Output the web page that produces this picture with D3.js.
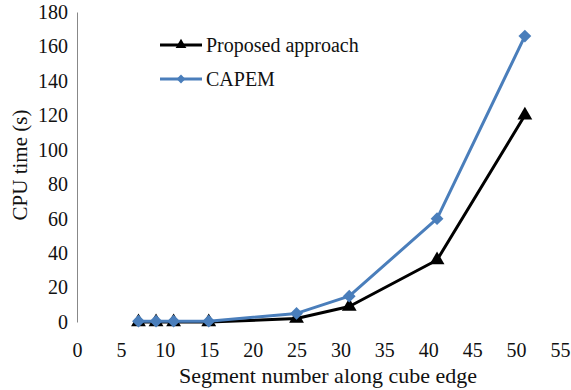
<!DOCTYPE html>
<html>
<head>
<meta charset="utf-8">
<script src="https://cdnjs.cloudflare.com/ajax/libs/d3/7.8.5/d3.min.js"></script>
<style>
  html, body { margin: 0; padding: 0; background: #fff; }
  svg text { font-family: "Liberation Serif", "Times New Roman", serif; fill: #111; }
</style>
</head>
<body>
<div id="chart"></div>
<script>
// Segment counts along the cube edge
const segments = [7, 9, 11, 15, 25, 31, 41, 51];
// CPU time in seconds for each method
const proposedTimes = [0, 0, 0, 0, 2, 9, 36, 120];
const capemTimes = [0.5, 0.5, 0.5, 0.5, 5, 15, 60, 166];
const seriesNames = ["Proposed approach", "CAPEM"];
const xTicks = [0, 5, 10, 15, 20, 25, 30, 35, 40, 45, 50, 55];
const yTicks = [0, 20, 40, 60, 80, 100, 120, 140, 160, 180];

const W = 571, H = 390;
const svg = d3.select("#chart").append("svg").attr("width", W).attr("height", H);

const x = d3.scaleLinear().domain([0, 55]).range([77, 560]);
const y = d3.scaleLinear().domain([0, 180]).range([322, 12]);

// y axis: plain grey spine, no tick marks
const yAxis = svg.append("g").attr("transform", `translate(${x(0)},0)`)
  .call(d3.axisLeft(y).tickValues(yTicks).tickSize(0).tickPadding(9));
yAxis.select(".domain").attr("stroke", "#888").attr("stroke-width", 1);
yAxis.selectAll("text").attr("font-size", 20).style("font-family", "Liberation Serif");

// x axis: labels only
const xAxis = svg.append("g").attr("transform", `translate(0,${y(0)})`)
  .call(d3.axisBottom(x).tickValues(xTicks).tickSize(0).tickPadding(21));
xAxis.select(".domain").remove();
xAxis.selectAll("text").attr("font-size", 20).style("font-family", "Liberation Serif");

svg.append("text").attr("transform", "translate(27,165) rotate(-90)")
  .attr("text-anchor", "middle").attr("font-size", 21).text("CPU time (s)");
svg.append("text").attr("x", 328).attr("y", 383)
  .attr("text-anchor", "middle").attr("font-size", 22).text("Segment number along cube edge");

const line = d3.line().x(d => x(d[0])).y(d => y(d[1]));
const tri = d3.symbol().type(d3.symbolTriangle).size(95);
const dia = d3.symbol().type(d3.symbolDiamond2 || d3.symbolDiamond).size(105);

const proposed = segments.map((s, i) => [s, proposedTimes[i]]);
const capem = segments.map((s, i) => [s, capemTimes[i]]);

function drawSeries(data, color, sym) {
  svg.append("path").datum(data).attr("d", line)
    .attr("fill", "none").attr("stroke", color).attr("stroke-width", 3)
    .attr("stroke-linejoin", "round");
  svg.append("g").selectAll("path").data(data).join("path")
    .attr("transform", d => `translate(${x(d[0])},${y(d[1])})`)
    .attr("d", sym).attr("fill", color);
}
drawSeries(proposed, "#000", tri);
drawSeries(capem, "#4a7ebb", dia);

// legend
const legend = [
  { name: seriesNames[0], color: "#000", sym: d3.symbol().type(d3.symbolTriangle).size(50), y: 45 },
  { name: seriesNames[1], color: "#4a7ebb", sym: d3.symbol().type(d3.symbolDiamond2 || d3.symbolDiamond).size(50), y: 79 }
];
const lg = svg.append("g");
legend.forEach(l => {
  lg.append("line").attr("x1", 160).attr("x2", 202).attr("y1", l.y).attr("y2", l.y)
    .attr("stroke", l.color).attr("stroke-width", 3);
  lg.append("path").attr("transform", `translate(181,${l.y})`).attr("d", l.sym).attr("fill", l.color);
  lg.append("text").attr("x", 206).attr("y", l.y + 7).attr("font-size", 20).text(l.name);
});
</script>
</body>
</html>
